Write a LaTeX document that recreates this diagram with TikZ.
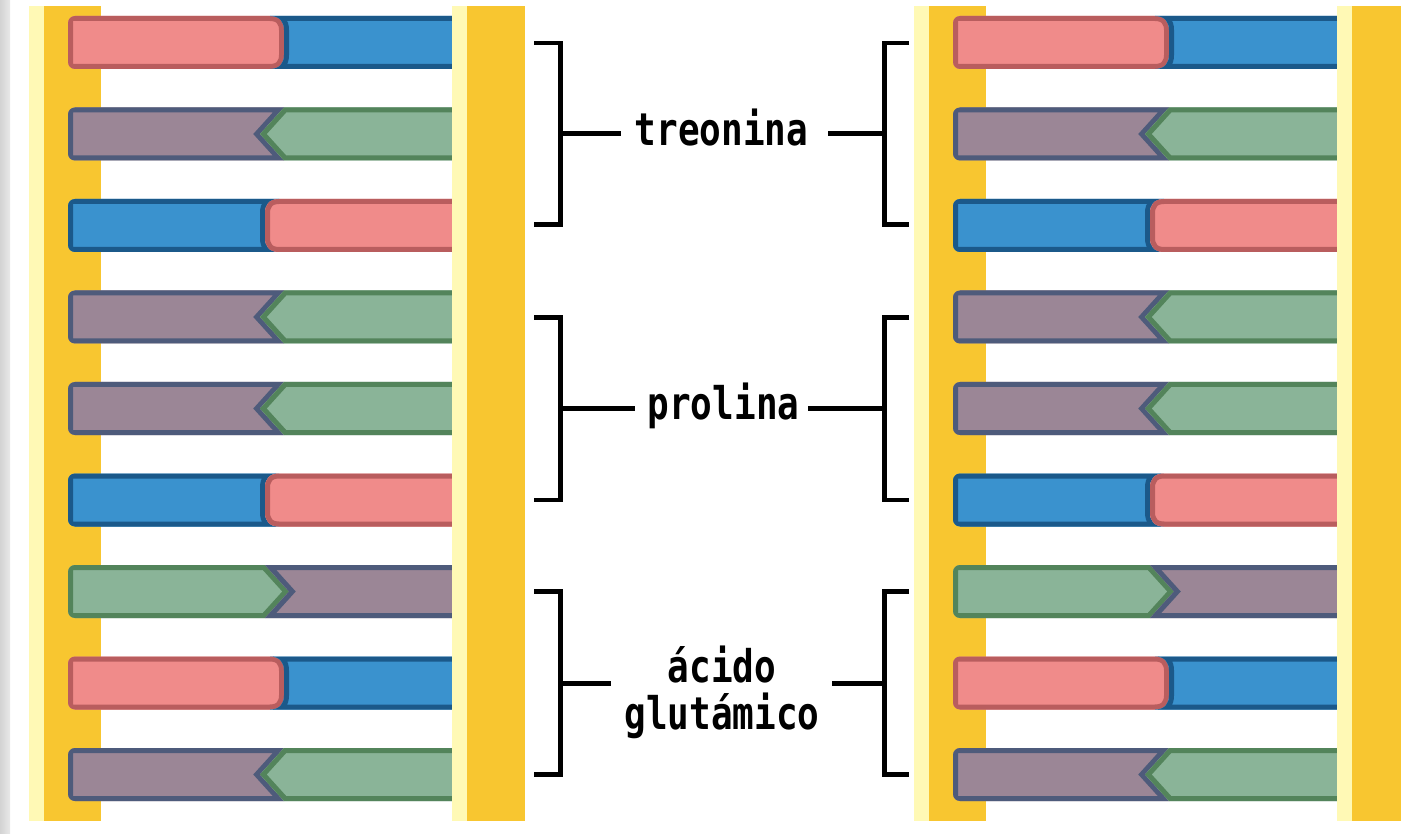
\documentclass[tikz,border=0pt]{standalone}
\usepackage{fontspec}
\usepackage{graphicx}
\newfontfamily\pixfont{DejaVu Sans Mono}
\definecolor{pinkF}{HTML}{F08B8A}
\definecolor{pinkD}{HTML}{B95D5E}
\definecolor{blueF}{HTML}{3A92CE}
\definecolor{blueD}{HTML}{1B598A}
\definecolor{purpF}{HTML}{9B8696}
\definecolor{purpD}{HTML}{4E5B7B}
\definecolor{greenF}{HTML}{8AB498}
\definecolor{greenD}{HTML}{53845B}
\definecolor{goldS}{HTML}{F8C630}
\definecolor{lightS}{HTML}{FFF9B5}
\definecolor{edgeA}{HTML}{D3D3D3}
\definecolor{edgeB}{HTML}{E8E8E8}
\tikzset{
  strandlight/.style={fill=lightS},
  strandgold/.style={fill=goldS},
  bracketline/.style={draw=black, line width=4.6pt},
  aminolabel/.style={font=\pixfont\bfseries\fontsize{36}{47}\selectfont, inner sep=0pt, text=black},
}
% one coloured half of a base pair: clipped fill with an inner outline
\newcommand\dnapiece[3]{%
  \begin{scope}\clip #3; \fill[#1] #3; \draw[#2, line width=10pt] #3; \end{scope}}
% one base pair bar: #1 left x, #2 top y, #3 type
\newcommand\dnabar[3]{%
  \begin{scope}[shift={(#1,#2)}]
  \begin{scope}
  \clip[rounded corners=7pt] (0,0) rectangle (400,53);
  \ifcase#3\relax\or
    % 1: pink | blue
    \dnapiece{pinkF}{pinkD}{(0,0) -- (202,0) .. controls (212,0) and (216,6) .. (216,14) -- (216,39) .. controls (216,47) and (212,53) .. (202,53) -- (0,53) -- cycle}%
    \dnapiece{blueF}{blueD}{(202,0) .. controls (212,0) and (216,6) .. (216,14) -- (216,39) .. controls (216,47) and (212,53) .. (202,53) -- (400,53) -- (400,0) -- cycle}%
  \or
    % 2: purple | green
    \dnapiece{purpF}{purpD}{(0,0) -- (216,0) -- (192,26.5) -- (216,53) -- (0,53) -- cycle}%
    \dnapiece{greenF}{greenD}{(216,0) -- (192,26.5) -- (216,53) -- (400,53) -- (400,0) -- cycle}%
  \or
    % 3: blue | pink
    \dnapiece{blueF}{blueD}{(0,0) -- (211,0) .. controls (201,0) and (197,6) .. (197,14) -- (197,39) .. controls (197,47) and (201,53) .. (211,53) -- (0,53) -- cycle}%
    \dnapiece{pinkF}{pinkD}{(211,0) .. controls (201,0) and (197,6) .. (197,14) -- (197,39) .. controls (197,47) and (201,53) .. (211,53) -- (400,53) -- (400,0) -- cycle}%
  \or
    % 4: green | purple
    \dnapiece{greenF}{greenD}{(0,0) -- (197,0) -- (221,26.5) -- (197,53) -- (0,53) -- cycle}%
    \dnapiece{purpF}{purpD}{(197,0) -- (221,26.5) -- (197,53) -- (400,53) -- (400,0) -- cycle}%
  \fi
  \end{scope}
  \end{scope}}
\begin{document}
\begin{tikzpicture}[x=1pt,y=-1pt]
\useasboundingbox (0,0) rectangle (1401,834);
\fill[white] (0,0) rectangle (1401,834);
\shade[left color=edgeA, right color=edgeB] (0,0) rectangle (10,834);
% left strand
\fill[strandlight] (29,6) rectangle (44,821);
\fill[strandgold] (44,6) rectangle (101,821);
% left base pairs
\foreach \T/\k in {16/1, 107.5/2, 199/3, 290.5/2, 382/2, 473.5/3, 565/4, 656.5/1, 748/2} {
  \dnabar{68}{\T}{\k}
}
% middle strands
\fill[strandlight] (452,6) rectangle (467,821);
\fill[strandgold] (467,6) rectangle (525,821);
\fill[strandlight] (914,6) rectangle (929,821);
\fill[strandgold] (929,6) rectangle (986,821);
% right base pairs
\foreach \T/\k in {16/1, 107.5/2, 199/3, 290.5/2, 382/2, 473.5/3, 565/4, 656.5/1, 748/2} {
  \dnabar{953}{\T}{\k}
}
% right strand
\fill[strandlight] (1337,6) rectangle (1352,821);
\fill[strandgold] (1352,6) rectangle (1401,821);

% labels
\node[aminolabel, anchor=base] (thr) at (721.5,146) {\scalebox{1}[1.25]{treonina}};
\node[aminolabel, anchor=base] (pro) at (723.5,419) {\scalebox{1}[1.25]{prolina}};
\node[aminolabel, anchor=center, align=center] (glu) at (722,692) {\scalebox{1}[1.25]{ácido}\\\scalebox{1}[1.25]{glutámico}};

% bracket coordinates
\coordinate (b1tl) at (534,43);    \coordinate (b1bl) at (534,224.8);
\coordinate (b1tr) at (909,43);    \coordinate (b1br) at (909,224.8);
\coordinate (b1ml) at (560.2,133.3); \coordinate (b1mr) at (884.2,133.3);
\coordinate (b1el) at (621,133.3); \coordinate (b1er) at (828,133.3);
\coordinate (b2tl) at (534,317.5);  \coordinate (b2bl) at (534,499.8);
\coordinate (b2tr) at (909,317.5);  \coordinate (b2br) at (909,499.8);
\coordinate (b2ml) at (560.2,408.5); \coordinate (b2mr) at (884.2,408.5);
\coordinate (b2el) at (635,408.5); \coordinate (b2er) at (808,408.5);
\coordinate (b3tl) at (534,591.5);  \coordinate (b3bl) at (534,774.5);
\coordinate (b3tr) at (909,591.5);  \coordinate (b3br) at (909,774.5);
\coordinate (b3ml) at (560.2,683.3); \coordinate (b3mr) at (884.2,683.3);
\coordinate (b3el) at (611,683.3); \coordinate (b3er) at (832,683.3);
% brackets
\foreach \b in {b1,b2,b3} {
  \draw[bracketline] (\b tl) -- (\b tl -| \b ml) -- (\b bl -| \b ml) -- (\b bl);
  \draw[bracketline] (\b tr) -- (\b tr -| \b mr) -- (\b br -| \b mr) -- (\b br);
  \draw[bracketline] (\b ml) -- (\b el);
  \draw[bracketline] (\b er) -- (\b mr);
}
\end{tikzpicture}
\end{document}
